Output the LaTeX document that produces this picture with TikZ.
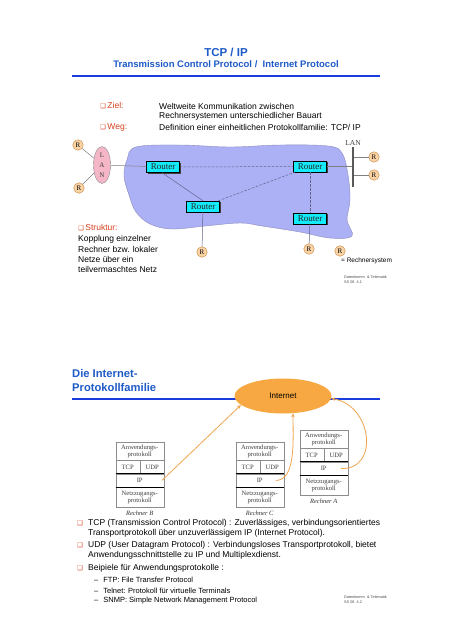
\documentclass[tikz,border=0pt]{standalone}
\usepackage{fontspec}
\setmainfont{Liberation Sans}
\newfontfamily\serif{Liberation Serif}
\newfontfamily\dejavu{DejaVu Sans}
\usetikzlibrary{shapes.geometric,shadows,arrows.meta}
\definecolor{titleblue}{RGB}{30,90,200}
\definecolor{ruleblue}{RGB}{25,60,220}
\definecolor{cloudfill}{RGB}{172,176,245}
\definecolor{cloudline}{RGB}{140,140,190}
\definecolor{routerfill}{RGB}{20,235,250}
\definecolor{rfill}{RGB}{250,212,165}
\definecolor{rline}{RGB}{200,130,60}
\definecolor{lanfill}{RGB}{245,182,200}
\definecolor{inetfill}{RGB}{248,168,66}
\definecolor{arrcol}{RGB}{240,165,80}
\definecolor{redtext}{RGB}{215,65,30}
\definecolor{netline}{RGB}{100,100,140}
\newcommand\bul{{\dejavu\fontsize{6.5}{6.5}\selectfont ❑}}
\newcommand\protstack[5]{%
  \node[cell, minimum width=48, minimum height=18, anchor=north west] (#3app) at (#1,#2) {Anwendungs-\\protokoll};
  \node[cell, minimum width=24, minimum height=13, anchor=north west] (#3tcp) at (#3app.south west) {TCP};
  \node[cell, minimum width=24, minimum height=13, anchor=north west] (#3udp) at (#3tcp.north east) {UDP};
  \node[cell, minimum width=48, minimum height=13, anchor=north west] (#3ip) at (#3tcp.south west) {IP};
  \node[cell, minimum width=48, minimum height=20, anchor=north west] (#3net) at (#3ip.south west) {Netzzugangs-\\protokoll};
  \draw[black, line width=0.9pt] (#3tcp.south west) -- (#3udp.south east);
  \draw[black, line width=0.9pt] (#3ip.south west) -- (#3ip.south east);
  \node[font=\serif\itshape\fontsize{6.5}{6.5}\selectfont, text=black!80, inner sep=0, anchor=north] (#3lab) at ([yshift=-3]#3net.south) {#4};
}
\begin{document}
\begin{tikzpicture}[x=1pt,y=-1pt,
  txt/.style={anchor=west, inner sep=0, font=\fontsize{8.5}{9}\selectfont},
  cell/.style={draw=black!45, fill=white, inner sep=0, align=center, font=\serif\fontsize{6.6}{7.3}\selectfont, text=black!75},
  rnode/.style={circle, draw=rline, fill=rfill, inner sep=0, minimum size=10.5, font=\serif\fontsize{7}{7}\selectfont},
  router/.style={rectangle, draw=black, fill=routerfill, inner sep=0, minimum width=33, minimum height=11,
     font=\serif\fontsize{9}{9}\selectfont, text=black!85,
     drop shadow={shadow xshift=1pt, shadow yshift=-1pt, fill=black!75, opacity=1}},
  net/.style={draw=netline, line width=0.5pt},
  netd/.style={draw=netline, line width=0.5pt, dash pattern=on 2.5pt off 1.5pt},
  arr/.style={draw=arrcol, line width=0.8pt, -{Stealth[length=4pt,width=3.5pt]}},
  foot/.style={anchor=west, inner sep=0, align=left, font=\fontsize{3.8}{5}\selectfont, text=black!70}
]
\useasboundingbox (0,0) rectangle (452,640);
\fill[white] (0,0) rectangle (452,640);

% ---------- page 1 ----------
\node[font=\bfseries\fontsize{11.5}{11.5}\selectfont, text=titleblue, inner sep=0] (title) at (226,52) {TCP / IP};
\node[font=\bfseries\fontsize{9.5}{9.5}\selectfont, text=titleblue, inner sep=0] (subtitle) at (226,64) {Transmission Control Protocol /\ \ Internet Protocol};
\draw[ruleblue, line width=2pt] (72,75.5) -- (380,75.5);

\node[txt, text=redtext] (ziel) at (100,106) {\bul\,Ziel:};
\node[txt] (z1) at (159,106) {Weltweite Kommunikation zwischen};
\node[txt] (z2) at (159,116.5) {Rechnersystemen unterschiedlicher Bauart};
\node[txt, text=redtext] (weg) at (100,127) {\bul\,Weg:};
\node[txt] (w1) at (159,127) {Definition einer einheitlichen Protokollfamilie: TCP/ IP};

% cloud
\filldraw[fill=cloudfill, draw=cloudline, line width=0.4pt] plot[smooth cycle, tension=0.6] coordinates {
 (136,147) (180,145) (230,147) (280,145) (328,146) (342,153) (348,175) (350,200) (347,220) (352,236)
 (330,238) (300,232) (262,226) (240,223) (205,226) (172,229) (150,224) (136,212) (129,195) (124,176) (127,160)};

% LAN left
\node[ellipse, draw=black!45, fill=lanfill, minimum width=17, minimum height=37, inner sep=0, align=center,
      font=\serif\fontsize{7}{10}\selectfont, text=black!75] (lan) at (102,165) {L\\A\\N};
\node[rnode] (rl1) at (78,145) {R};
\node[rnode] (rl2) at (79,188) {R};

% routers
\node[router] (ro1) at (163,167) {Router};
\node[router] (ro2) at (310,166.5) {Router};
\node[router] (ro3) at (203,206.5) {Router};
\node[router] (ro4) at (310,218.5) {Router};

% LAN right
\coordinate (bartop) at (353,147);
\coordinate (barbot) at (353,187);
\node[font=\serif\fontsize{7.5}{7.5}\selectfont, text=black!75, inner sep=0, anchor=south] (lanlab) at (353,146) {LAN};
\node[rnode] (rr1) at (374,157) {R};
\node[rnode] (rr2) at (374,175) {R};

% R below
\node[rnode] (rb1) at (202,252) {R};
\node[rnode] (rb2) at (309,249) {R};

% connections
\draw[net, draw=black!50] (rl1) -- (lan);
\draw[net, draw=black!50] (rl2) -- (lan);
\draw[net, draw=black!50] (lan) -- (ro1);
\draw[netd] (ro1) -- (ro2);
\draw[net] (ro1.south) ++(-1,0) -- (ro3.north);
\draw[netd] (ro3) -- (ro2);
\draw[netd] (ro2) -- (ro4);
\draw[net] (ro3) -- (rb1);
\draw[net] (ro4) -- (rb2);
\draw[net, draw=black!50] (ro2.east) -- (ro2.east -| bartop);
\draw[net, draw=black!50] (rr1) -- (rr1 -| bartop);
\draw[net, draw=black!50] (rr2) -- (rr2 -| bartop);
\draw[black!65, line width=1.6pt] (bartop) -- (barbot);

% legend
\node[rnode] (rleg) at (340,251) {R};
\node[anchor=west, inner sep=0, font=\fontsize{6.5}{7}\selectfont] (legtext) at (341,261) {= Rechnersystem};

% Struktur
\node[txt, text=redtext] (struk) at (78,228) {\bul\,Struktur:};
\node[txt] (s1) at (78,239) {Kopplung einzelner};
\node[txt] (s2) at (78,249) {Rechner bzw. lokaler};
\node[txt] (s3) at (78,259) {Netze über ein};
\node[txt] (s4) at (78,269) {teilvermaschtes Netz};

\node[foot] (foot1) at (344,280) {Datenkomm. \& Telematik\\SS 08\ \ 4.1};

% ---------- page 2 ----------
\node[anchor=west, inner sep=0, align=left, font=\bfseries\fontsize{11.2}{14}\selectfont, text=titleblue] (h2) at (72,380) {Die Internet-\\Protokollfamilie};
\draw[ruleblue, line width=2pt] (72,398.7) -- (380,398.7);
\node[ellipse, fill=inetfill, minimum width=97, minimum height=35, inner sep=0, font=\fontsize{8}{8}\selectfont] (inet) at (283,396) {Internet};

\protstack{115.5}{442}{B}{Rechner B}{}
\protstack{235.5}{442}{C}{Rechner C}{}
\protstack{299.5}{430}{A}{Rechner A}{}

\draw[arr] ([xshift=-2]Bip.east) -- (inet.192);
\draw[arr] ([xshift=-8]Cip.east) .. controls (296,480) and (293,440) .. (inet.300);
\draw[arr] ([xshift=-7]Aip.east) .. controls (380,470) and (372,405) .. (inet.357);

% bullets
\node[txt, text=redtext] (b1m) at (77,523) {\bul};
\node[txt] (b1a) at (88,523) {TCP (Transmission Control Protocol) : Zuverlässiges, verbindungsorientiertes};
\node[txt] (b1b) at (88,533.5) {Transportprotokoll über unzuverlässigem IP (Internet Protocol).};
\node[txt, text=redtext] (b2m) at (77,545) {\bul};
\node[txt] (b2a) at (88,545) {UDP (User Datagram Protocol) : Verbindungsloses Transportprotokoll, bietet};
\node[txt] (b2b) at (88,555.5) {Anwendungsschnittstelle zu IP und Multiplexdienst.};
\node[txt, text=redtext] (b3m) at (77,568) {\bul};
\node[txt] (b3a) at (88,568) {Beipiele für Anwendungsprotokolle :};
\node[txt, font=\fontsize{7.5}{8}\selectfont] (d1) at (94,579.5) {–\hspace{5pt}FTP: File Transfer Protocol};
\node[txt, font=\fontsize{7.5}{8}\selectfont] (d2) at (94,590.5) {–\hspace{5pt}Telnet: Protokoll für virtuelle Terminals};
\node[txt, font=\fontsize{7.5}{8}\selectfont] (d3) at (94,601) {–\hspace{5pt}SNMP: Simple Network Management Protocol};

\node[foot] (foot2) at (344,600) {Datenkomm. \& Telematik\\SS 08\ \ 4.2};
\end{tikzpicture}
\end{document}
